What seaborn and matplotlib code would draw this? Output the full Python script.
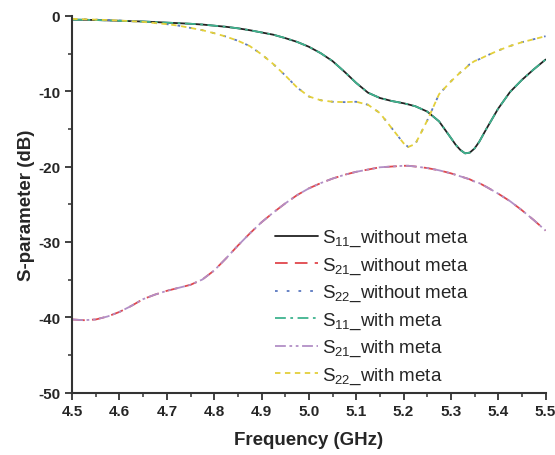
import matplotlib
matplotlib.use("Agg")
import matplotlib.pyplot as plt
from matplotlib.ticker import MultipleLocator
import seaborn as sns

# frequency points (GHz), shared by all curves
freq = [4.500, 4.525, 4.550, 4.575, 4.600, 4.625, 4.650, 4.675, 4.700, 4.725,
        4.750, 4.775, 4.800, 4.825, 4.850, 4.875, 4.900, 4.925, 4.950, 4.975,
        5.000, 5.025, 5.050, 5.075, 5.100, 5.125, 5.150, 5.175, 5.200, 5.210,
        5.225, 5.250, 5.275, 5.300, 5.310, 5.320, 5.330, 5.340, 5.350, 5.360,
        5.375, 5.400, 5.425, 5.450, 5.475, 5.500]

s11_without = [-0.50, -0.52, -0.55, -0.60, -0.65, -0.70, -0.75, -0.82, -0.90, -0.97,
               -1.05, -1.15, -1.30, -1.45, -1.65, -1.90, -2.20, -2.50, -2.95, -3.45,
               -4.10, -4.95, -6.00, -7.40, -8.90, -10.20, -10.90, -11.30, -11.60, -11.75,
               -12.00, -12.70, -14.00, -16.20, -17.10, -17.80, -18.25, -18.15, -17.60, -16.70,
               -15.00, -12.30, -10.10, -8.50, -7.10, -5.80]
s21_without = [-40.3, -40.4, -40.3, -39.9, -39.3, -38.5, -37.6, -37.0, -36.5, -36.1,
               -35.7, -35.0, -33.8, -32.2, -30.5, -28.9, -27.4, -26.1, -24.9, -23.8,
               -22.9, -22.2, -21.6, -21.1, -20.7, -20.4, -20.1, -20.0, -19.9, -19.9,
               -20.0, -20.2, -20.5, -20.9, -21.1, -21.3, -21.5, -21.7, -22.0, -22.2,
               -22.7, -23.6, -24.6, -25.8, -27.1, -28.5]
s22_without = [-0.40, -0.45, -0.50, -0.55, -0.62, -0.70, -0.80, -0.95, -1.10, -1.30,
               -1.60, -1.90, -2.30, -2.75, -3.30, -4.00, -5.10, -6.40, -7.90, -9.50,
               -10.70, -11.20, -11.40, -11.45, -11.40, -11.80, -12.90, -14.90, -16.90, -17.40,
               -17.00, -13.90, -10.40, -8.70, -8.10, -7.50, -7.00, -6.40, -6.00, -5.75,
               -5.30, -4.60, -4.00, -3.50, -3.10, -2.70]

s11_with = [-0.50, -0.52, -0.55, -0.60, -0.65, -0.70, -0.75, -0.82, -0.90, -0.97,
            -1.05, -1.15, -1.30, -1.45, -1.65, -1.90, -2.20, -2.50, -2.95, -3.45,
            -4.10, -4.95, -6.00, -7.40, -8.90, -10.20, -10.90, -11.30, -11.60, -11.75,
            -12.00, -12.70, -14.00, -16.20, -17.10, -17.80, -18.25, -18.15, -17.60, -16.70,
            -15.00, -12.30, -10.10, -8.50, -7.10, -5.80]
s21_with = [-40.3, -40.4, -40.3, -39.9, -39.3, -38.5, -37.6, -37.0, -36.5, -36.1,
            -35.7, -35.0, -33.8, -32.2, -30.5, -28.9, -27.4, -26.1, -24.9, -23.8,
            -22.9, -22.2, -21.6, -21.1, -20.7, -20.4, -20.1, -20.0, -19.9, -19.9,
            -20.0, -20.2, -20.5, -20.9, -21.1, -21.3, -21.5, -21.7, -22.0, -22.2,
            -22.7, -23.6, -24.6, -25.8, -27.1, -28.5]
s22_with = [-0.40, -0.45, -0.50, -0.55, -0.62, -0.70, -0.80, -0.95, -1.10, -1.30,
            -1.60, -1.90, -2.30, -2.75, -3.30, -4.00, -5.10, -6.40, -7.90, -9.50,
            -10.70, -11.20, -11.40, -11.45, -11.40, -11.80, -12.90, -14.90, -16.90, -17.40,
            -17.00, -13.90, -10.40, -8.70, -8.10, -7.50, -7.00, -6.40, -6.00, -5.75,
            -5.30, -4.60, -4.00, -3.50, -3.10, -2.70]

labels = [r"S$_{11}$_without meta", r"S$_{21}$_without meta", r"S$_{22}$_without meta",
          r"S$_{11}$_with meta", r"S$_{21}$_with meta", r"S$_{22}$_with meta"]

sns.set_style("ticks")
plt.rcParams["font.family"] = ["Liberation Sans", "DejaVu Sans"]
plt.rcParams["mathtext.fontset"] = "custom"
plt.rcParams["mathtext.rm"] = "Liberation Sans"
plt.rcParams["mathtext.it"] = "Liberation Sans"
plt.rcParams["axes.unicode_minus"] = False

fig = plt.figure(figsize=(5.55, 4.56), dpi=100)
ax = fig.add_axes([0.13, 0.137, 0.853, 0.826])

series = [s11_without, s21_without, s22_without, s11_with, s21_with, s22_with]
colors = ["#222222", "#e0474c", "#5a78c0", "#3fb38f", "#b28fc6", "#e3cf3a"]
dashes = [None, (7, 4), (1.5, 5), (6, 2.5, 1.5, 2.5), (6, 2, 1.5, 2, 1.5, 2), (3, 2.5)]

for y, lab, c, d in zip(series, labels, colors, dashes):
    sns.lineplot(x=freq, y=y, ax=ax, color=c, linewidth=1.3, label=lab)
    if d is not None:
        ax.get_lines()[-1].set_dashes(d)

ax.set_xlim(4.5, 5.5)
ax.set_ylim(-50, 0)
ax.xaxis.set_minor_locator(MultipleLocator(0.05))
ax.yaxis.set_major_locator(MultipleLocator(10))
ax.yaxis.set_minor_locator(MultipleLocator(5))
ax.set_xticks([4.5, 4.6, 4.7, 4.8, 4.9, 5.0, 5.1, 5.2, 5.3, 5.4, 5.5])
ax.set_xticklabels(["4.5", "4.6", "4.7", "4.8", "4.9", "5.0", "5.1", "5.2", "5.3", "5.4", "5.5"])
sns.despine(ax=ax)
for sp in ["left", "bottom"]:
    ax.spines[sp].set_linewidth(1.5)
    ax.spines[sp].set_color("#333333")
ax.tick_params(which="major", length=5, width=1.3, labelsize=11, color="#333333")
ax.tick_params(which="minor", length=3, width=1.1, color="#333333")
for t in ax.get_xticklabels() + ax.get_yticklabels():
    t.set_fontweight("bold")

ax.set_xlabel("Frequency (GHz)", fontsize=13.5, fontweight="bold", labelpad=9)
ax.set_ylabel("S-parameter (dB)", fontsize=13.5, fontweight="bold", labelpad=2)

ax.legend(loc="upper left", bbox_to_anchor=(275 / 555, 1 - 229 / 456),
          bbox_transform=fig.transFigure, frameon=False, fontsize=13.5,
          handlelength=2.3, handletextpad=0.2, labelspacing=0.38, borderpad=0,
          borderaxespad=0)

fig.savefig("out.png", dpi=100)
